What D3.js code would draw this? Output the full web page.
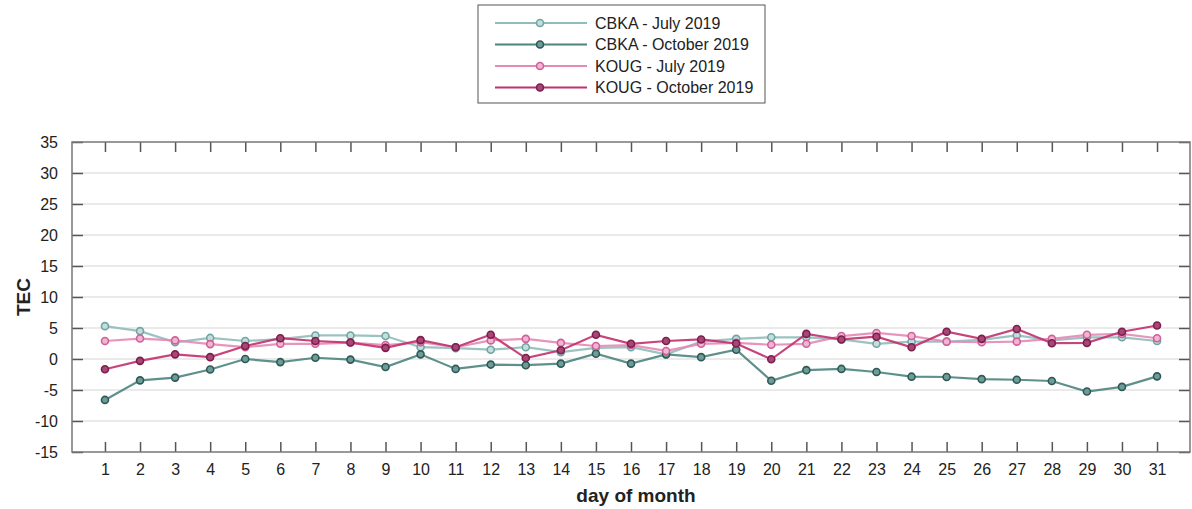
<!DOCTYPE html>
<html>
<head>
<meta charset="utf-8">
<script src="https://cdn.jsdelivr.net/npm/d3@7"></script>
<style>
  body { margin: 0; background: #fff; }
  text { font-family: "Liberation Sans", Arial, sans-serif; }
</style>
</head>
<body>
<div id="canvas"></div>
<script>
"use strict"

/* data */
let days = d3.range(1, 32)
let cbkaJuly = [5.3, 4.5, 2.7, 3.4, 2.9, 3.2, 3.8, 3.8, 3.7, 1.9, 1.75, 1.5, 1.9, 1.1, 1.8, 1.9, 0.75, 2.8, 3.25, 3.5, 3.5, 3.15, 2.45, 2.8, 2.8, 3.1, 3.8, 3.0, 3.5, 3.5, 2.9]
let cbkaOct = [-6.6, -3.45, -3.0, -1.7, 0.0, -0.5, 0.2, -0.1, -1.3, 0.75, -1.6, -0.9, -1.0, -0.75, 0.85, -0.75, 0.75, 0.3, 1.5, -3.5, -1.8, -1.6, -2.1, -2.85, -2.9, -3.25, -3.35, -3.55, -5.25, -4.5, -2.8]
let kougJuly = [2.9, 3.3, 3.0, 2.4, 1.9, 2.45, 2.45, 2.65, 2.25, 2.7, 1.9, 3.0, 3.25, 2.6, 2.1, 2.25, 1.3, 2.45, 2.6, 2.3, 2.45, 3.7, 4.2, 3.7, 2.8, 2.7, 2.8, 3.25, 3.9, 4.05, 3.35]
let kougOct = [-1.65, -0.3, 0.75, 0.3, 2.1, 3.35, 2.9, 2.65, 1.8, 3.05, 1.9, 3.9, 0.15, 1.4, 3.9, 2.45, 2.9, 3.15, 2.5, -0.05, 4.05, 3.15, 3.6, 1.9, 4.4, 3.25, 4.85, 2.55, 2.6, 4.4, 5.4]
let seriesNames = ["CBKA - July 2019", "CBKA - October 2019", "KOUG - July 2019", "KOUG - October 2019"]
let yTicks = [-15, -10, -5, 0, 5, 10, 15, 20, 25, 30, 35]

let svgWidth = 1192
let svgHeight = 509
let margin = { top: 142, right: 2, bottom: 57, left: 72 }
let plotW = svgWidth - margin.left - margin.right
let plotH = svgHeight - margin.top - margin.bottom

/* colours: line, marker fill, marker stroke */
let lineColors = ["#8fbdbb", "#4d8480", "#e48ab6", "#c2306f"]
let dotFill = ["#c4dedd", "#6e9c98", "#f0b5d2", "#a84676"]
let dotStroke = ["#6fa5a3", "#2f5956", "#d0609a", "#7c1f4c"]

let svg = d3.select("#canvas")
    .append("svg")
    .attr("width", svgWidth)
    .attr("height", svgHeight)

let viz = svg.append("g")
    .attr("transform", `translate(${margin.left},${margin.top})`)

let xScale = d3.scaleLinear()
    .domain([0.06, 31.94])
    .range([0, plotW])

let yScale = d3.scaleLinear()
    .domain([-15, 35])
    .range([plotH, 0])

/* horizontal grid */
viz.selectAll("line.grid")
    .data(yTicks.slice(1, -1))
    .join("line")
    .classed("grid", true)
    .attr("x1", 0)
    .attr("x2", plotW)
    .attr("y1", d => yScale(d))
    .attr("y2", d => yScale(d))
    .attr("stroke", "#e3e3e3")
    .attr("stroke-width", 1.5)

/* axes: ticks point inwards, plain hyphen for negatives */
let tickColor = "#555"
let leftAxis = viz.append("g")
    .call(d3.axisLeft(yScale).tickValues(yTicks).tickSize(-11).tickPadding(14).tickFormat(d => String(d)))
let rightAxis = viz.append("g")
    .attr("transform", `translate(${plotW},0)`)
    .call(d3.axisRight(yScale).tickValues(yTicks).tickSize(-11).tickFormat(""))
let bottomAxis = viz.append("g")
    .attr("transform", `translate(0,${plotH})`)
    .call(d3.axisBottom(xScale).tickValues(days).tickSize(-10).tickPadding(12))
let topAxis = viz.append("g")
    .call(d3.axisTop(xScale).tickValues(days).tickSize(-10).tickFormat(""))

for (let ax of [leftAxis, rightAxis, bottomAxis, topAxis]) {
    ax.select(".domain").remove()
    ax.selectAll(".tick line").attr("stroke", tickColor).attr("stroke-width", 1.5)
    ax.selectAll("text")
        .attr("fill", "#222")
        .style("font-size", "16px")
        .style("font-family", "\"Liberation Sans\", Arial, sans-serif")
}
leftAxis.selectAll("text").attr("dy", "0.34em")

/* frame */
viz.append("rect")
    .attr("width", plotW)
    .attr("height", plotH)
    .attr("fill", "none")
    .attr("stroke", "#777")
    .attr("stroke-width", 1.5)

/* series */
let allSeries = [cbkaJuly, cbkaOct, kougJuly, kougOct]
let line = d3.line()
    .x((d, i) => xScale(days[i]))
    .y(d => yScale(d))

allSeries.forEach(function (values, s) {
    viz.append("path")
        .datum(values)
        .attr("d", line)
        .attr("fill", "none")
        .attr("stroke", lineColors[s])
        .attr("stroke-width", 2.2)
        .attr("opacity", 0.9)
    viz.selectAll("circle.s" + s)
        .data(values)
        .join("circle")
        .classed("s" + s, true)
        .attr("cx", (d, i) => xScale(days[i]))
        .attr("cy", d => yScale(d))
        .attr("r", 3.5)
        .attr("fill", dotFill[s])
        .attr("stroke", dotStroke[s])
        .attr("stroke-width", 1.6)
})

/* axis titles */
svg.append("text")
    .attr("transform", `translate(30,${margin.top + yScale(10)}) rotate(-90)`)
    .attr("text-anchor", "middle")
    .style("font-size", "19px")
    .style("font-weight", "bold")
    .attr("fill", "#222")
    .text("TEC")

svg.append("text")
    .attr("x", 636)
    .attr("y", 502)
    .attr("text-anchor", "middle")
    .style("font-size", "19px")
    .style("font-weight", "bold")
    .attr("fill", "#222")
    .text("day of month")

/* legend */
let legend = svg.append("g").attr("transform", "translate(478,5)")
legend.append("rect")
    .attr("width", 287)
    .attr("height", 98)
    .attr("fill", "#fff")
    .attr("stroke", "#555")
    .attr("stroke-width", 1)
seriesNames.forEach(function (name, s) {
    let y = 18 + s * 21.5
    legend.append("line")
        .attr("x1", 17).attr("x2", 109)
        .attr("y1", y).attr("y2", y)
        .attr("stroke", lineColors[s])
        .attr("stroke-width", 2.2)
    legend.append("circle")
        .attr("cx", 62).attr("cy", y).attr("r", 3.5)
        .attr("fill", dotFill[s])
        .attr("stroke", dotStroke[s])
        .attr("stroke-width", 1.6)
    legend.append("text")
        .attr("x", 117)
        .attr("y", y)
        .attr("dy", "0.35em")
        .style("font-size", "16px")
        .attr("fill", "#222")
        .text(name)
})
</script>
</body>
</html>
